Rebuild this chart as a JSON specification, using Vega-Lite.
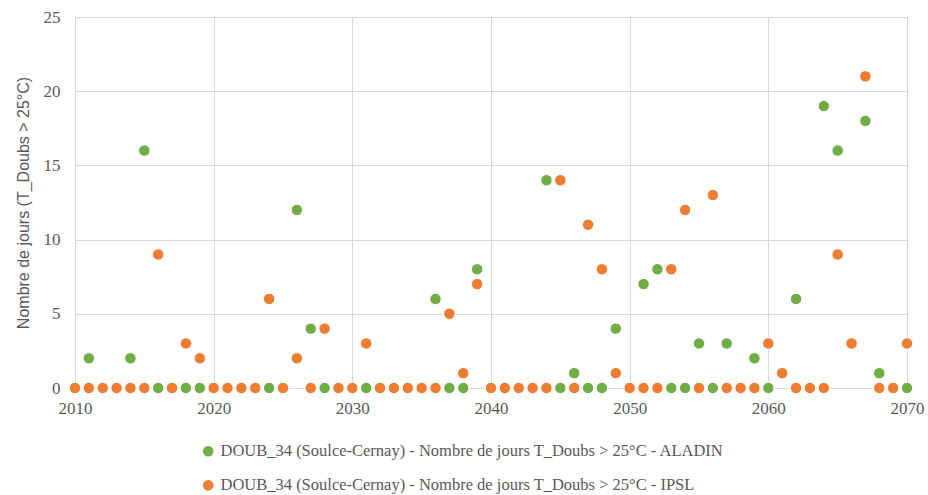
{
  "$schema": "https://vega.github.io/schema/vega-lite/v6.json",
  "width": 832,
  "height": 371,
  "autosize": {"type": "none"},
  "padding": {"left": 75, "top": 17, "right": 21, "bottom": 107},
  "background": "white",
  "datasets": {
    "aladin": [
      {"year": 2010, "v": 0}, {"year": 2011, "v": 2}, {"year": 2012, "v": 0}, {"year": 2013, "v": 0}, {"year": 2014, "v": 2},
      {"year": 2015, "v": 16}, {"year": 2016, "v": 0}, {"year": 2017, "v": 0}, {"year": 2018, "v": 0}, {"year": 2019, "v": 0},
      {"year": 2020, "v": 0}, {"year": 2021, "v": 0}, {"year": 2022, "v": 0}, {"year": 2023, "v": 0}, {"year": 2024, "v": 0},
      {"year": 2025, "v": 0}, {"year": 2026, "v": 12}, {"year": 2027, "v": 4}, {"year": 2028, "v": 0}, {"year": 2029, "v": 0},
      {"year": 2030, "v": 0}, {"year": 2031, "v": 0}, {"year": 2032, "v": 0}, {"year": 2033, "v": 0}, {"year": 2034, "v": 0},
      {"year": 2035, "v": 0}, {"year": 2036, "v": 6}, {"year": 2037, "v": 0}, {"year": 2038, "v": 0}, {"year": 2039, "v": 8},
      {"year": 2040, "v": 0}, {"year": 2041, "v": 0}, {"year": 2042, "v": 0}, {"year": 2043, "v": 0}, {"year": 2044, "v": 14},
      {"year": 2045, "v": 0}, {"year": 2046, "v": 1}, {"year": 2047, "v": 0}, {"year": 2048, "v": 0}, {"year": 2049, "v": 4},
      {"year": 2050, "v": 0}, {"year": 2051, "v": 7}, {"year": 2052, "v": 8}, {"year": 2053, "v": 0}, {"year": 2054, "v": 0},
      {"year": 2055, "v": 3}, {"year": 2056, "v": 0}, {"year": 2057, "v": 3}, {"year": 2058, "v": 0}, {"year": 2059, "v": 2},
      {"year": 2060, "v": 0}, {"year": 2061, "v": 1}, {"year": 2062, "v": 6}, {"year": 2063, "v": 0}, {"year": 2064, "v": 19},
      {"year": 2065, "v": 16}, {"year": 2066, "v": 3}, {"year": 2067, "v": 18}, {"year": 2068, "v": 1}, {"year": 2069, "v": 0},
      {"year": 2070, "v": 0}
    ],
    "ipsl": [
      {"year": 2010, "v": 0}, {"year": 2011, "v": 0}, {"year": 2012, "v": 0}, {"year": 2013, "v": 0}, {"year": 2014, "v": 0},
      {"year": 2015, "v": 0}, {"year": 2016, "v": 9}, {"year": 2017, "v": 0}, {"year": 2018, "v": 3}, {"year": 2019, "v": 2},
      {"year": 2020, "v": 0}, {"year": 2021, "v": 0}, {"year": 2022, "v": 0}, {"year": 2023, "v": 0}, {"year": 2024, "v": 6},
      {"year": 2025, "v": 0}, {"year": 2026, "v": 2}, {"year": 2027, "v": 0}, {"year": 2028, "v": 4}, {"year": 2029, "v": 0},
      {"year": 2030, "v": 0}, {"year": 2031, "v": 3}, {"year": 2032, "v": 0}, {"year": 2033, "v": 0}, {"year": 2034, "v": 0},
      {"year": 2035, "v": 0}, {"year": 2036, "v": 0}, {"year": 2037, "v": 5}, {"year": 2038, "v": 1}, {"year": 2039, "v": 7},
      {"year": 2040, "v": 0}, {"year": 2041, "v": 0}, {"year": 2042, "v": 0}, {"year": 2043, "v": 0}, {"year": 2044, "v": 0},
      {"year": 2045, "v": 14}, {"year": 2046, "v": 0}, {"year": 2047, "v": 11}, {"year": 2048, "v": 8}, {"year": 2049, "v": 1},
      {"year": 2050, "v": 0}, {"year": 2051, "v": 0}, {"year": 2052, "v": 0}, {"year": 2053, "v": 8}, {"year": 2054, "v": 12},
      {"year": 2055, "v": 0}, {"year": 2056, "v": 13}, {"year": 2057, "v": 0}, {"year": 2058, "v": 0}, {"year": 2059, "v": 0},
      {"year": 2060, "v": 3}, {"year": 2061, "v": 1}, {"year": 2062, "v": 0}, {"year": 2063, "v": 0}, {"year": 2064, "v": 0},
      {"year": 2065, "v": 9}, {"year": 2066, "v": 3}, {"year": 2067, "v": 21}, {"year": 2068, "v": 0}, {"year": 2069, "v": 0},
      {"year": 2070, "v": 3}
    ]
  },
  "config": {
    "view": {"stroke": null},
    "font": "Liberation Sans Narrow",
    "axis": {
      "gridColor": "#d9d9d9",
      "gridWidth": 1,
      "labelColor": "#595959",
      "labelFont": "Liberation Sans Narrow",
      "labelFontSize": 17,
      "titleColor": "#595959",
      "titleFont": "Liberation Sans",
      "titleFontSize": 16,
      "titleFontWeight": "normal",
      "ticks": false,
      "domain": false
    }
  },
  "layer": [
    {
      "data": {"values": [{"y": 0}]},
      "mark": {"type": "rule", "color": "#bfbfbf", "strokeWidth": 1.5},
      "encoding": {"y": {"field": "y", "type": "quantitative", "scale": {"domain": [0, 25]}}}
    },
    {
      "data": {"name": "aladin"},
      "transform": [{"calculate": "'DOUB_34 (Soulce-Cernay) - Nombre de jours T_Doubs > 25°C - ALADIN'", "as": "series"}],
      "mark": {"type": "point", "filled": true, "size": 130, "stroke": "white", "strokeWidth": 1, "opacity": 1},
      "encoding": {
        "x": {"field": "year", "type": "quantitative"},
        "y": {"field": "v", "type": "quantitative"},
        "color": {"field": "series", "type": "nominal"}
      }
    },
    {
      "data": {"name": "ipsl"},
      "transform": [{"calculate": "'DOUB_34 (Soulce-Cernay) - Nombre de jours T_Doubs > 25°C - IPSL'", "as": "series"}],
      "mark": {"type": "point", "filled": true, "size": 130, "stroke": "white", "strokeWidth": 1, "opacity": 1},
      "encoding": {
        "x": {"field": "year", "type": "quantitative"},
        "y": {"field": "v", "type": "quantitative"},
        "color": {"field": "series", "type": "nominal"}
      }
    }
  ],
  "encoding": {
    "x": {
      "field": "year", "type": "quantitative", "title": null,
      "scale": {"domain": [2010, 2070], "nice": false, "zero": false},
      "axis": {"values": [2010, 2020, 2030, 2040, 2050, 2060, 2070], "format": "d", "labelPadding": 12, "labelFlush": false}
    },
    "y": {
      "field": "v", "type": "quantitative", "title": "Nombre de jours (T_Doubs > 25°C)",
      "scale": {"domain": [0, 25], "nice": false},
      "axis": {"values": [0, 5, 10, 15, 20, 25], "labelPadding": 15, "titlePadding": 12}
    },
    "color": {
      "field": "series", "type": "nominal",
      "scale": {
        "domain": ["DOUB_34 (Soulce-Cernay) - Nombre de jours T_Doubs > 25°C - ALADIN", "DOUB_34 (Soulce-Cernay) - Nombre de jours T_Doubs > 25°C - IPSL"],
        "range": ["#70AD47", "#ED7D31"]
      },
      "legend": {
        "title": null,
        "orient": "none",
        "legendX": 125,
        "legendY": 426,
        "direction": "vertical",
        "symbolType": "circle",
        "symbolSize": 115,
        "symbolStrokeWidth": 0,
        "labelFont": "Liberation Sans Narrow",
        "labelFontSize": 16.5,
        "labelColor": "#595959",
        "labelLimit": 700,
        "rowPadding": 17,
        "labelOffset": 4
      }
    }
  }
}
